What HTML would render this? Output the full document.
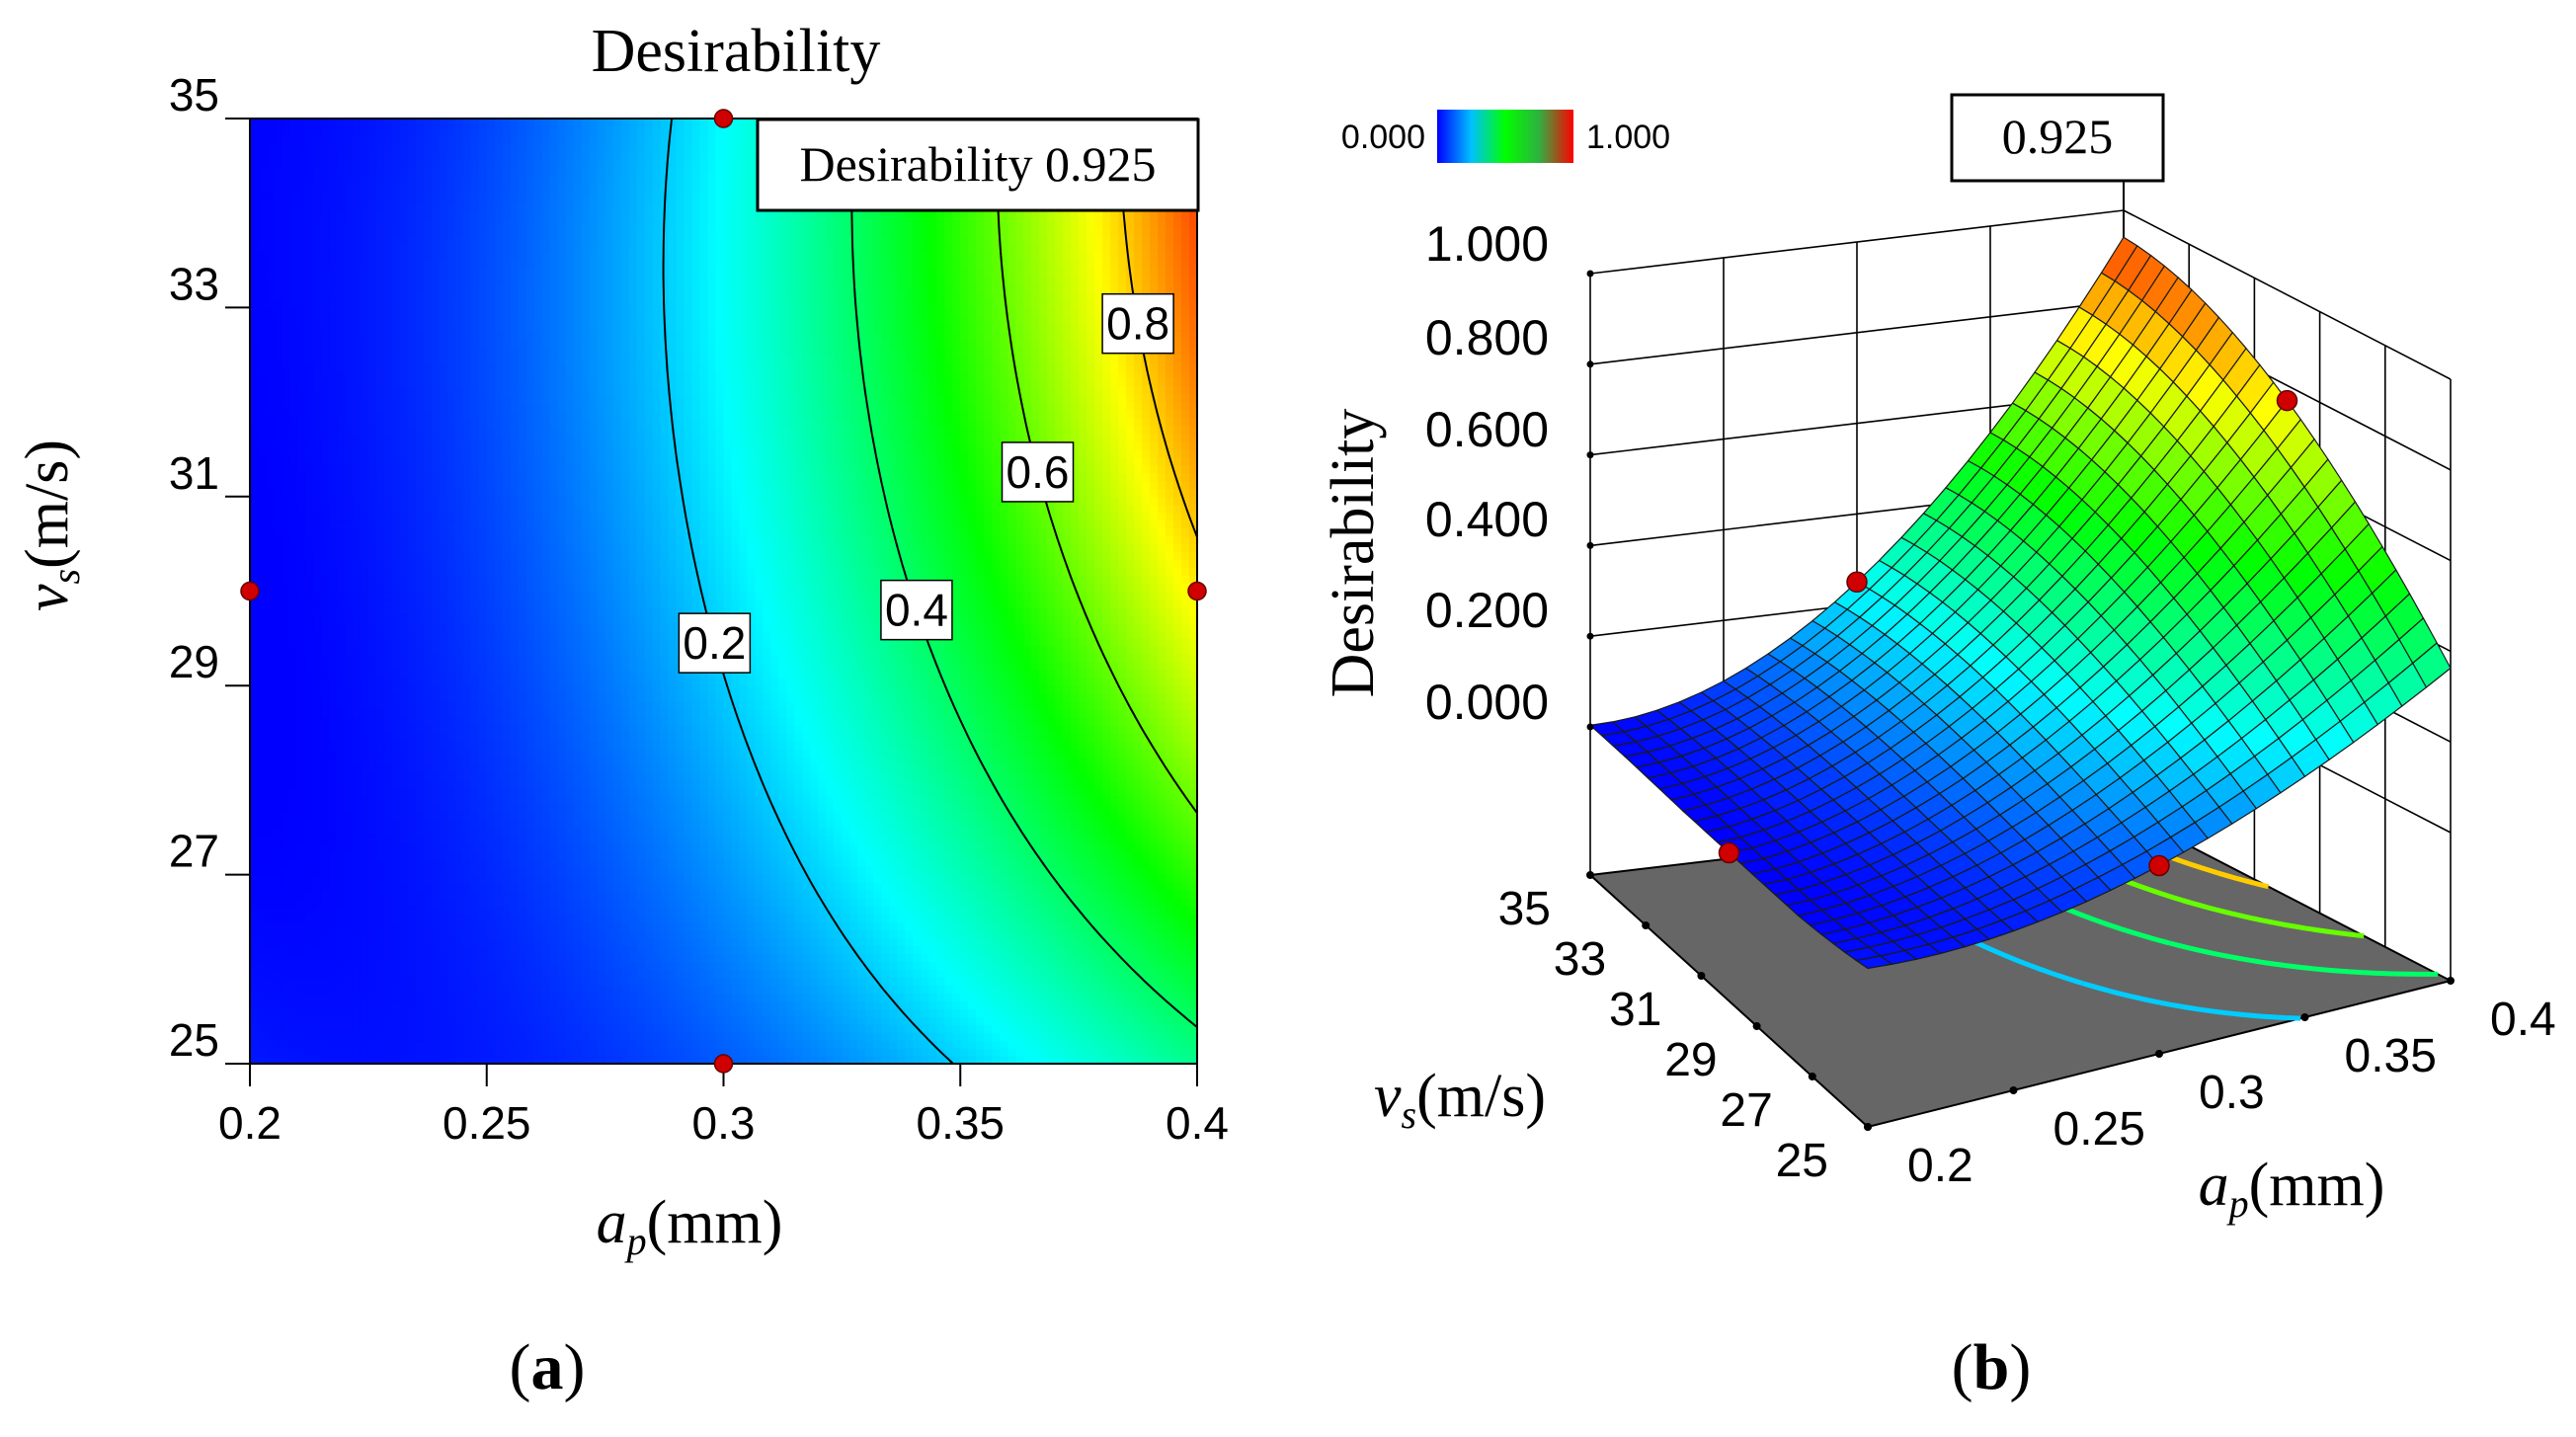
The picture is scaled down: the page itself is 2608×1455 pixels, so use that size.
<!DOCTYPE html>
<html><head><meta charset="utf-8">
<style>
html,body{margin:0;padding:0;background:#fff;}
body{width:2608px;height:1455px;position:relative;overflow:hidden;}
svg{position:absolute;left:0;top:0;}
.sans{font-family:"Liberation Sans",Arial,sans-serif;}
.serif{font-family:"Liberation Serif","Times New Roman",serif;}
</style></head>
<body>
<svg id="chart" width="2608" height="1455" viewBox="0 0 2608 1455" xmlns="http://www.w3.org/2000/svg">
  <defs>
    <linearGradient id="cbar" x1="0" x2="1" y1="0" y2="0">
      <stop offset="0" stop-color="#0000ff"/><stop offset="0.25" stop-color="#00c0ff"/>
      <stop offset="0.5" stop-color="#00ff00"/><stop offset="0.75" stop-color="#30b040"/>
      <stop offset="1" stop-color="#ff0000"/>
    </linearGradient>
    <clipPath id="plotclip"><rect x="253" y="120" width="959" height="957"/></clipPath>
  </defs>
  <g id="left">
    <text class="serif" x="745" y="72" font-size="62" text-anchor="middle">Desirability</text>
    <g id="heat" clip-path="url(#plotclip)"></g>
    <g id="contours" clip-path="url(#plotclip)"></g>
    <rect x="253" y="120" width="959" height="957" fill="none" stroke="#000" stroke-width="2"/>
    <g id="lticks"></g>
    <g id="clabels"></g>
    <g id="lpoints"></g>
    <rect x="767" y="121" width="446" height="92" fill="#fff" stroke="#000" stroke-width="3"/>
    <text class="serif" x="990" y="183" font-size="50" text-anchor="middle">Desirability 0.925</text>
    <text class="serif" transform="translate(68,532) rotate(-90)" font-size="62" text-anchor="middle"><tspan font-style="italic">v</tspan><tspan font-style="italic" font-size="40" dy="12">s</tspan><tspan dy="-12">(m/s)</tspan></text>
    <text class="serif" x="698" y="1258" font-size="62" text-anchor="middle"><tspan font-style="italic">a</tspan><tspan font-style="italic" font-size="40" dy="12">p</tspan><tspan dy="-12">(mm)</tspan></text>
    <text class="serif" x="554" y="1406" font-size="66" text-anchor="middle">(<tspan font-weight="bold">a</tspan>)</text>
  </g>
  <g id="right">
    <rect x="1455" y="111" width="138" height="54" fill="url(#cbar)"/>
    <text class="sans" x="1443" y="150" font-size="34" text-anchor="end">0.000</text>
    <text class="sans" x="1606" y="150" font-size="34">1.000</text>
    <g id="walls"></g>
    <g id="floor"></g>
    <g id="surface"></g>
    <g id="rpoints"></g>
    <g id="axes3d"></g>
    <line x1="2150" y1="183" x2="2150" y2="213" stroke="#000" stroke-width="2"/>
    <rect x="1976" y="96" width="214" height="87" fill="#fff" stroke="#000" stroke-width="3"/>
    <text class="serif" x="2083" y="155" font-size="50" text-anchor="middle">0.925</text>
    <text class="serif" transform="translate(1390,560) rotate(-90)" font-size="62" text-anchor="middle">Desirability</text>
    <text class="serif" x="1478" y="1130" font-size="62" text-anchor="middle"><tspan font-style="italic">v</tspan><tspan font-style="italic" font-size="40" dy="12">s</tspan><tspan dy="-12">(m/s)</tspan></text>
    <text class="serif" x="2320" y="1220" font-size="62" text-anchor="middle"><tspan font-style="italic">a</tspan><tspan font-style="italic" font-size="40" dy="12">p</tspan><tspan dy="-12">(mm)</tspan></text>
    <text class="serif" x="2016" y="1406" font-size="66" text-anchor="middle">(<tspan font-weight="bold">b</tspan>)</text>
  </g>
</svg>
<script>
// ---- data ----
const apValues = [0.20,0.22,0.24,0.26,0.28,0.30,0.32,0.34,0.36,0.38,0.40];
const vsValues = [25,27,29,31,33,35];
const dVs25 = [0,0.01,0.025,0.045,0.07,0.10,0.13,0.17,0.23,0.30,0.37];
const dVs27 = [0,0.014,0.035,0.062,0.097,0.14,0.185,0.25,0.345,0.44,0.55];
const dVs29 = [0,0.018,0.043,0.078,0.125,0.185,0.277,0.37,0.48,0.603,0.68];
const dVs31 = [0,0.02,0.048,0.088,0.145,0.237,0.33,0.434,0.572,0.72,0.83];
const dVs33 = [0,0.02,0.05,0.09,0.152,0.25,0.35,0.467,0.60,0.748,0.88];
const dVs35 = [0,0.02,0.05,0.09,0.155,0.26,0.363,0.487,0.623,0.777,0.925];
const contourLevels = [0.2,0.4,0.6,0.8];
const contourLabelText = ["0.2","0.4","0.6","0.8"];
const designAp = [0.3,0.2,0.4,0.3];
const designVs = [35,30,30,25];
const xTickLabels = ["0.2","0.25","0.3","0.35","0.4"];
const xTickValues = [0.2,0.25,0.3,0.35,0.4];
const yTickLabels = ["25","27","29","31","33","35"];
const yTickValues = [25,27,29,31,33,35];
const zTickLabels = ["0.000","0.200","0.400","0.600","0.800","1.000"];
const zTickValues = [0,0.2,0.4,0.6,0.8,1.0];

const grid = [dVs25,dVs27,dVs29,dVs31,dVs33,dVs35];
const NS="http://www.w3.org/2000/svg";
const apMin=0.2,apMax=0.4,vsMin=25,vsMax=35;
// least-squares cubic response surface fitted to the grid values
function basis(ap,vs){
  const a=(ap-0.3)/0.1, v=(vs-30)/5;
  return [1,a,v,a*a,a*v,v*v,a*a*a,a*a*v,a*v*v,v*v*v];
}
const coef=(function(){
  const n=10,A=[],b=[];
  for(let i=0;i<n;i++){A.push(new Array(n).fill(0));b.push(0);}
  vsValues.forEach((vs,j)=>apValues.forEach((ap,i)=>{
    const f=basis(ap,vs),y=grid[j][i];
    for(let r=0;r<n;r++){b[r]+=f[r]*y;for(let c=0;c<n;c++)A[r][c]+=f[r]*f[c];}
  }));
  for(let c=0;c<n;c++){
    let p=c;for(let r=c+1;r<n;r++)if(Math.abs(A[r][c])>Math.abs(A[p][c]))p=r;
    [A[c],A[p]]=[A[p],A[c]];[b[c],b[p]]=[b[p],b[c]];
    for(let r=0;r<n;r++){if(r===c)continue;const f=A[r][c]/A[c][c];
      for(let k=c;k<n;k++)A[r][k]-=f*A[c][k];b[r]-=f*b[c];}
  }
  return b.map((v,i)=>v/A[i][i]);
})();
function D(ap,vs){
  const f=basis(ap,vs);let s=0;for(let k=0;k<f.length;k++)s+=coef[k]*f[k];
  return Math.max(0,Math.min(1,s));
}
function cmap(t){
  t=Math.max(0,Math.min(1,t));
  const st=[[0,0,0,255],[0.25,0,255,255],[0.5,0,255,0],[0.75,255,255,0],[1,255,0,0]];
  for(let k=0;k<st.length-1;k++){
    if(t<=st[k+1][0]){const f=(t-st[k][0])/(st[k+1][0]-st[k][0]);
      const c=[1,2,3].map(m=>Math.round(st[k][m]+(st[k+1][m]-st[k][m])*f));
      return `rgb(${c[0]},${c[1]},${c[2]})`;}
  }
  return "rgb(255,0,0)";
}
function el(tag,attrs,parent){const e=document.createElementNS(NS,tag);for(const k in attrs)e.setAttribute(k,attrs[k]);parent.appendChild(e);return e;}
// ---- left axes ----
const X=ap=>253+(ap-apMin)/(apMax-apMin)*959;
const Y=vs=>1077-(vs-vsMin)/(vsMax-vsMin)*957;
const heat=document.getElementById('heat');
const N=120;
for(let i=0;i<N;i++)for(let j=0;j<N;j++){
  const ap=apMin+(i+0.5)/N*(apMax-apMin), vs=vsMin+(j+0.5)/N*(vsMax-vsMin);
  const x0=X(apMin+i/N*(apMax-apMin)), x1=X(apMin+(i+1)/N*(apMax-apMin));
  const y0=Y(vsMin+(j+1)/N*(vsMax-vsMin)), y1=Y(vsMin+j/N*(vsMax-vsMin));
  const r=el('rect',{x:x0.toFixed(2),y:y0.toFixed(2),width:(x1-x0+0.6).toFixed(2),height:(y1-y0+0.6).toFixed(2),fill:cmap(D(ap,vs))},heat);
  
  
}
function contourSegs(level,M){
  const segs=[];
  for(let i=0;i<M;i++)for(let j=0;j<M;j++){
    const a0=apMin+i/M*(apMax-apMin),a1=apMin+(i+1)/M*(apMax-apMin);
    const v0=vsMin+j/M*(vsMax-vsMin),v1=vsMin+(j+1)/M*(vsMax-vsMin);
    const c=[[a0,v0,D(a0,v0)],[a1,v0,D(a1,v0)],[a1,v1,D(a1,v1)],[a0,v1,D(a0,v1)]];
    const pts=[];
    for(let k=0;k<4;k++){const p=c[k],q=c[(k+1)%4];
      if((p[2]-level)*(q[2]-level)<0){const f=(level-p[2])/(q[2]-p[2]);pts.push([p[0]+(q[0]-p[0])*f,p[1]+(q[1]-p[1])*f]);}}
    if(pts.length>=2)segs.push([pts[0],pts[1]]);
    if(pts.length===4)segs.push([pts[2],pts[3]]);
  }
  return segs;
}
const cg=document.getElementById('contours');
contourLevels.forEach(lv=>{
  let d='';contourSegs(lv,90).forEach(s=>{d+=`M${X(s[0][0]).toFixed(1)},${Y(s[0][1]).toFixed(1)}L${X(s[1][0]).toFixed(1)},${Y(s[1][1]).toFixed(1)}`;});
  const p=el('path',{d:d,stroke:'#000','stroke-width':2,fill:'none'},cg);
  
  
});
const labelVs=[29.45,29.8,31.26,32.83];
const clg=document.getElementById('clabels');
contourLevels.forEach((lv,k)=>{
  const vs=labelVs[k];let lo=apMin,hi=apMax;
  for(let it=0;it<40;it++){const m=(lo+hi)/2;if(D(m,vs)<lv)lo=m;else hi=m;}
  const cx=X(lo),cy=Y(vs);
  const r=el('rect',{x:cx-36,y:cy-30,width:72,height:60,fill:'#fff',stroke:'#000','stroke-width':1.5},clg);
  
  
  const t=el('text',{x:cx,y:cy+16,'font-size':46,'text-anchor':'middle',class:'sans'},clg);
  t.textContent=contourLabelText[k];
  
  
});
const tg=document.getElementById('lticks');
xTickValues.forEach((v,k)=>{
  const l=el('line',{x1:X(v),x2:X(v),y1:1077,y2:1100,stroke:'#000','stroke-width':2},tg);
  
  
  const t=el('text',{x:X(v),y:1153,'font-size':46,'text-anchor':'middle',class:'sans'},tg);
  t.textContent=xTickLabels[k];
  
  
});
yTickValues.forEach((v,k)=>{
  const l=el('line',{x1:228,x2:253,y1:Y(v),y2:Y(v),stroke:'#000','stroke-width':2},tg);
  
  
  const t=el('text',{x:222,y:Y(v)-8,'font-size':46,'text-anchor':'end',class:'sans'},tg);
  t.textContent=yTickLabels[k];
  
  
});
const lp=document.getElementById('lpoints');
designAp.forEach((a,k)=>{
  const c=el('circle',{cx:X(a),cy:Y(designVs[k]),r:9,fill:'#d00000',stroke:'#600','stroke-width':1.5},lp);
  
  
});
// ---- 3D ----
const Fc=[1891,1141],Rc=[2481,993],Lc=[1610,886],Bc=[2150,822];
const zOff=150,zScale=459;
function P(ap,vs,z){
  const u=(ap-apMin)/(apMax-apMin),w=(vs-vsMin)/(vsMax-vsMin);
  const x=Fc[0]*(1-u)*(1-w)+Rc[0]*u*(1-w)+Lc[0]*(1-u)*w+Bc[0]*u*w;
  const y=Fc[1]*(1-u)*(1-w)+Rc[1]*u*(1-w)+Lc[1]*(1-u)*w+Bc[1]*u*w;
  if(z===null)return [x,y];
  return [x,y-zOff-zScale*z];
}
const wg=document.getElementById('walls');
function line3(a,b,g,name,w){const l=el('line',{x1:a[0].toFixed(1),y1:a[1].toFixed(1),x2:b[0].toFixed(1),y2:b[1].toFixed(1),stroke:'#000','stroke-width':w||1.6},g);return l;}
xTickValues.forEach(a=>{line3(P(a,vsMax,null),P(a,vsMax,1),wg,'wall-gridline');});
yTickValues.forEach(v=>{line3(P(apMax,v,null),P(apMax,v,1),wg,'wall-gridline');});
zTickValues.forEach(z=>{
  line3(P(apMin,vsMax,z),P(apMax,vsMax,z),wg,'wall-gridline');
  line3(P(apMax,vsMax,z),P(apMax,vsMin,z),wg,'wall-gridline');
});
line3(P(apMax,vsMax,1),P(apMax,vsMax,null),wg,'back-corner-edge',2);
const fg=document.getElementById('floor');
const fp=[P(apMin,vsMin,null),P(apMax,vsMin,null),P(apMax,vsMax,null),P(apMin,vsMax,null)];
const poly=el('polygon',{points:fp.map(p=>p.join(',')).join(' '),fill:'#666666',stroke:'#000','stroke-width':2},fg);


contourLevels.forEach(lv=>{
  let d='';contourSegs(lv,60).forEach(s=>{const a=P(s[0][0],s[0][1],null),b=P(s[1][0],s[1][1],null);d+=`M${a[0].toFixed(1)},${a[1].toFixed(1)}L${b[0].toFixed(1)},${b[1].toFixed(1)}`;});
  const p=el('path',{d:d,stroke:cmap(lv),'stroke-width':5,fill:'none'},fg);
  
  
});
const sg=document.getElementById('surface');
const S=24,quads=[];
for(let i=0;i<S;i++)for(let j=0;j<S;j++)quads.push([i,j]);
quads.sort((q1,q2)=>(q2[0]+q2[1])-(q1[0]+q1[1]));
quads.forEach(([i,j])=>{
  const a0=apMin+i/S*(apMax-apMin),a1=apMin+(i+1)/S*(apMax-apMin);
  const v0=vsMin+j/S*(vsMax-vsMin),v1=vsMin+(j+1)/S*(vsMax-vsMin);
  const cs=[[a0,v0],[a1,v0],[a1,v1],[a0,v1]];
  const pts=cs.map(c=>P(c[0],c[1],D(c[0],c[1])));
  const zm=D((a0+a1)/2,(v0+v1)/2);
  const q=el('polygon',{points:pts.map(p=>p[0].toFixed(1)+','+p[1].toFixed(1)).join(' '),fill:cmap(zm),stroke:'#1a1a1a','stroke-width':1.2,'stroke-linejoin':'round'},sg);
  
  
});
const rp=document.getElementById('rpoints');
designAp.forEach((a,k)=>{
  const p=P(a,designVs[k],D(a,designVs[k]));
  const c=el('circle',{cx:p[0],cy:p[1],r:10,fill:'#d00000',stroke:'#600','stroke-width':1.5},rp);
  
  
});
const ag=document.getElementById('axes3d');
const zLabelY=[710,617,525,434,341,246];
zTickValues.forEach((z,k)=>{
  const t=el('text',{x:1568,y:zLabelY[k]+18,'font-size':50,'text-anchor':'end',class:'sans'},ag);
  t.textContent=zTickLabels[k];
  
  
  const p=P(apMin,vsMax,z);
  const d=el('circle',{cx:p[0],cy:p[1],r:3.5,fill:'#000'},ag);
  
  
});
yTickValues.forEach((v,k)=>{
  const p=P(apMin,v,null);
  const d=el('circle',{cx:p[0],cy:p[1],r:4,fill:'#000'},ag);
  
  
  const t=el('text',{x:p[0]-40,y:p[1]+50,'font-size':48,'text-anchor':'end',class:'sans'},ag);
  t.textContent=yTickLabels[k];
  
  
});
xTickValues.forEach((a,k)=>{
  const p=P(a,vsMin,null);
  const d=el('circle',{cx:p[0],cy:p[1],r:4,fill:'#000'},ag);
  
  
  const t=el('text',{x:p[0]+40,y:p[1]+55,'font-size':48,'text-anchor':'start',class:'sans'},ag);
  t.textContent=xTickLabels[k];
  
  
});
</script>
</body></html>
